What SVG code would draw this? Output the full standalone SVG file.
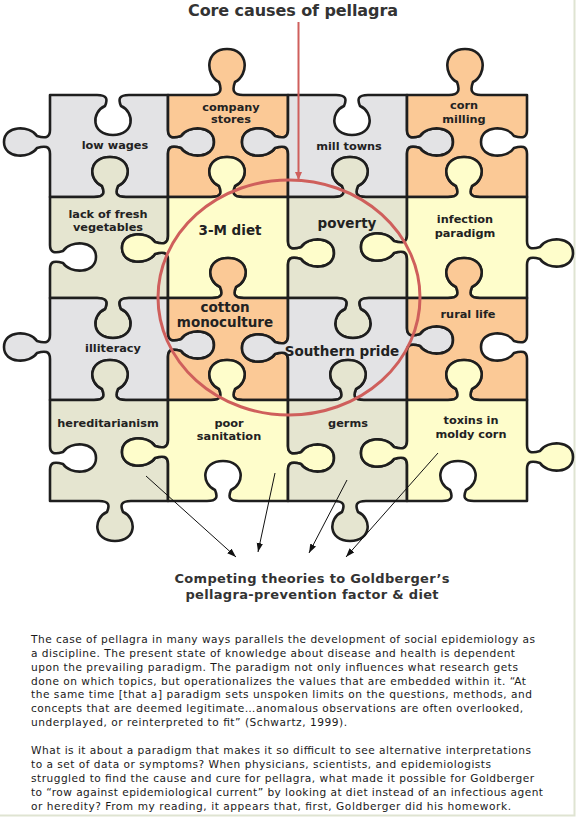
<svg xmlns="http://www.w3.org/2000/svg" width="576" height="817" viewBox="0 0 576 817">
<defs>
<style>
.pc{stroke:#1e1e1e;stroke-width:2.6;stroke-linejoin:round}
.gray{fill:#e3e3e5}
.org{fill:#fbc996}
.yel{fill:#fefdcb}
.grn{fill:#e5e5d0}
.lb{font-family:"DejaVu Sans",Verdana,sans-serif;font-weight:bold;font-size:11.3px;fill:#222;text-anchor:middle}
.big{font-size:13.5px}
.hd{font-family:"DejaVu Sans",Verdana,sans-serif;font-weight:bold;fill:#333;text-anchor:middle}
.para{font-family:"DejaVu Sans",Verdana,sans-serif;font-size:10.6px;fill:#1a1a1a}
.arr{stroke:#111;stroke-width:1;fill:none;marker-end:url(#ah)}
</style>
<marker id="ah" markerUnits="userSpaceOnUse" markerWidth="10" markerHeight="8" refX="9" refY="4" orient="auto"><path d="M0,0.8 L9,4 L0,7.2 z" fill="#111"/></marker>
<marker id="rah" markerUnits="userSpaceOnUse" markerWidth="10" markerHeight="8" refX="8" refY="4" orient="auto"><path d="M0,0.5 L8,4 L0,7.5 z" fill="#cf5f5c"/></marker>
</defs>
<rect width="576" height="817" fill="#ffffff"/>
<path d="M574.5,0 V815.5 H0" fill="none" stroke="#dfe4d2" stroke-width="2"/>

<text class="hd" x="293" y="16" font-size="16" textLength="210">Core causes of pellagra</text>

<g id="pieces">
<g id="piece-low-wages">
<path class="pc gray" d="M50,95 H97 c10,0 11,4 8,11 c-14,6 -14,29 8,29 c22,0 22,-23 8,-29 c-3,-7 -2,-11 8,-11 H168 V130 c0,8 5,8.5 13,6 c7,-11 33,-11 33,6 c0,17 -26,17 -33,6 c-8,-2.5 -13,-2 -13,6 V197 H126 c-10,0 -11,-4 -8,-11 c14,-6 14,-29 -8,-29 c-22,0 -22,23 -8,29 c3,7 2,11 -8,11 H50 V154 c0,-8 -5,-8.5 -13,-6 c-7,11 -33,11 -33,-6 c0,-17 26,-17 33,-6 c8,2.5 13,2 13,-6 Z"/>
<text class="lb" x="115" y="149">low wages</text>
</g>
<g id="piece-company-stores">
<path class="pc org" d="M168,95 H211 c10,0 11,-5 8,-13 c-14,-7 -14,-33 8,-33 c22,0 22,26 8,33 c-3,8 -2,13 8,13 H288 V130 c0,8 -5,8.5 -13,6 c-7,-11 -33,-11 -33,6 c0,17 26,17 33,6 c8,-2.5 13,-2 13,6 V197 H243 c-10,0 -11,-4 -8,-11 c14,-6 14,-29 -8,-29 c-22,0 -22,23 -8,29 c3,7 2,11 -8,11 H168 V154 c0,-8 5,-8.5 13,-6 c7,11 33,11 33,-6 c0,-17 -26,-17 -33,-6 c-8,2.5 -13,2 -13,-6 Z"/>
<text class="lb" x="231" y="111">company</text>
<text class="lb" x="231" y="123">stores</text>
</g>
<g id="piece-mill-towns">
<path class="pc gray" d="M288,95 H336 c10,0 11,4 8,11 c-14,6 -14,29 8,29 c22,0 22,-23 8,-29 c-3,-7 -2,-11 8,-11 H407 V130 c0,8 5,8.5 13,6 c7,-11 33,-11 33,6 c0,17 -26,17 -33,6 c-8,-2.5 -13,-2 -13,6 V197 H366 c-10,0 -11,-4 -8,-11 c14,-6 14,-29 -8,-29 c-22,0 -22,23 -8,29 c3,7 2,11 -8,11 H288 V154 c0,-8 -5,-8.5 -13,-6 c-7,11 -33,11 -33,-6 c0,-17 26,-17 33,-6 c8,2.5 13,2 13,-6 Z"/>
<text class="lb" x="349" y="150">mill towns</text>
</g>
<g id="piece-corn-milling">
<path class="pc org" d="M407,95 H449 c10,0 11,-5 8,-13 c-14,-7 -14,-33 8,-33 c22,0 22,26 8,33 c-3,8 -2,13 8,13 H527 V130 c0,8 -5,8.5 -13,6 c-7,-11 -33,-11 -33,6 c0,17 26,17 33,6 c8,-2.5 13,-2 13,6 V197 H480 c-10,0 -11,-4 -8,-11 c14,-6 14,-29 -8,-29 c-22,0 -22,23 -8,29 c3,7 2,11 -8,11 H407 V154 c0,-8 5,-8.5 13,-6 c7,11 33,11 33,-6 c0,-17 -26,-17 -33,-6 c-8,2.5 -13,2 -13,-6 Z"/>
<text class="lb" x="464" y="109">corn</text>
<text class="lb" x="464" y="123">milling</text>
</g>

<g id="piece-lack-of-fresh-vegetables">
<path class="pc grn" d="M50,197 H94 c10,0 11,-4 8,-11 c-14,-6 -14,-29 8,-29 c22,0 22,23 8,29 c-3,7 -2,11 8,11 H168 V236 c0,8 -5,8.5 -13,6 c-7,-11 -33,-11 -33,6 c0,17 26,17 33,6 c8,-2.5 13,-2 13,6 V298 H129 c-10,0 -11,4 -8,11 c14,6 14,29 -8,29 c-22,0 -22,-23 -8,-29 c3,-7 2,-11 -8,-11 H50 V269 c0,-8 5,-8.5 13,-6 c7,11 33,11 33,-6 c0,-17 -26,-17 -33,-6 c-8,2.5 -13,2 -13,-6 Z"/>
<text class="lb" x="108" y="218">lack of fresh</text>
<text class="lb" x="108" y="231">vegetables</text>
</g>
<g id="piece-3m-diet">
<path class="pc yel" d="M168,197 H211 c10,0 11,-4 8,-11 c-14,-6 -14,-29 8,-29 c22,0 22,23 8,29 c-3,7 -2,11 8,11 H288 V241 c0,8 5,8.5 13,6 c7,-11 33,-11 33,6 c0,17 -26,17 -33,6 c-8,-2.5 -13,-2 -13,6 V298 H244 c-10,0 -11,-4 -8,-11 c14,-6 14,-29 -8,-29 c-22,0 -22,23 -8,29 c3,7 2,11 -8,11 H168 V260 c0,-8 -5,-8.5 -13,-6 c-7,11 -33,11 -33,-6 c0,-17 26,-17 33,-6 c8,2.5 13,2 13,-6 Z"/>
<text class="lb big" x="230" y="235">3-M diet</text>
</g>
<g id="piece-poverty">
<path class="pc grn" d="M288,197 H334 c10,0 11,-4 8,-11 c-14,-6 -14,-29 8,-29 c22,0 22,23 8,29 c-3,7 -2,11 8,11 H407 V235 c0,8 -5,8.5 -13,6 c-7,-11 -33,-11 -33,6 c0,17 26,17 33,6 c8,-2.5 13,-2 13,6 V298 H369 c-10,0 -11,4 -8,11 c14,6 14,29 -8,29 c-22,0 -22,-23 -8,-29 c3,-7 2,-11 -8,-11 H288 V265 c0,-8 5,-8.5 13,-6 c7,11 33,11 33,-6 c0,-17 -26,-17 -33,-6 c-8,2.5 -13,2 -13,-6 Z"/>
<text class="lb big" x="347" y="228">poverty</text>
</g>
<g id="piece-infection-paradigm">
<path class="pc yel" d="M407,197 H448 c10,0 11,-4 8,-11 c-14,-6 -14,-29 8,-29 c22,0 22,23 8,29 c-3,7 -2,11 8,11 H527 V241 c0,8 5,8.5 13,6 c7,-11 33,-11 33,6 c0,17 -26,17 -33,6 c-8,-2.5 -13,-2 -13,6 V298 H480 c-10,0 -11,-4 -8,-11 c14,-6 14,-29 -8,-29 c-22,0 -22,23 -8,29 c3,7 2,11 -8,11 H407 V259 c0,-8 -5,-8.5 -13,-6 c-7,11 -33,11 -33,-6 c0,-17 26,-17 33,-6 c8,2.5 13,2 13,-6 Z"/>
<text class="lb" x="465" y="223">infection</text>
<text class="lb" x="465" y="237">paradigm</text>
</g>

<g id="piece-illiteracy">
<path class="pc gray" d="M50,298 H97 c10,0 11,4 8,11 c-14,6 -14,29 8,29 c22,0 22,-23 8,-29 c-3,-7 -2,-11 8,-11 H168 V333 c0,8 5,8.5 13,6 c7,-11 33,-11 33,6 c0,17 -26,17 -33,6 c-8,-2.5 -13,-2 -13,6 V400 H126 c-10,0 -11,-4 -8,-11 c14,-6 14,-29 -8,-29 c-22,0 -22,23 -8,29 c3,7 2,11 -8,11 H50 V359 c0,-8 -5,-8.5 -13,-6 c-7,11 -33,11 -33,-6 c0,-17 26,-17 33,-6 c8,2.5 13,2 13,-6 Z"/>
<text class="lb" x="113" y="352">illiteracy</text>
</g>
<g id="piece-cotton-monoculture">
<path class="pc org" d="M168,298 H212 c10,0 11,-4 8,-11 c-14,-6 -14,-29 8,-29 c22,0 22,23 8,29 c-3,7 -2,11 8,11 H288 V336 c0,8 -5,8.5 -13,6 c-7,-11 -33,-11 -33,6 c0,17 26,17 33,6 c8,-2.5 13,-2 13,6 V400 H243 c-10,0 -11,-4 -8,-11 c14,-6 14,-29 -8,-29 c-22,0 -22,23 -8,29 c3,7 2,11 -8,11 H168 V357 c0,-8 5,-8.5 13,-6 c7,11 33,11 33,-6 c0,-17 -26,-17 -33,-6 c-8,2.5 -13,2 -13,-6 Z"/>
<text class="lb big" x="225" y="312">cotton</text>
<text class="lb big" x="225" y="327">monoculture</text>
</g>
<g id="piece-southern-pride">
<path class="pc gray" d="M288,298 H337 c10,0 11,4 8,11 c-14,6 -14,29 8,29 c22,0 22,-23 8,-29 c-3,-7 -2,-11 8,-11 H407 V328 c0,8 5,8.5 13,6 c7,-11 33,-11 33,6 c0,17 -26,17 -33,6 c-8,-2.5 -13,-2 -13,6 V400 H364 c-10,0 -11,-4 -8,-11 c14,-6 14,-29 -8,-29 c-22,0 -22,23 -8,29 c3,7 2,11 -8,11 H288 V360 c0,-8 -5,-8.5 -13,-6 c-7,11 -33,11 -33,-6 c0,-17 26,-17 33,-6 c8,2.5 13,2 13,-6 Z"/>
<text class="lb big" x="342" y="356">Southern pride</text>
</g>
<g id="piece-rural-life">
<path class="pc org" d="M407,298 H448 c10,0 11,-4 8,-11 c-14,-6 -14,-29 8,-29 c22,0 22,23 8,29 c-3,7 -2,11 8,11 H527 V335 c0,8 -5,8.5 -13,6 c-7,-11 -33,-11 -33,6 c0,17 26,17 33,6 c8,-2.5 13,-2 13,6 V400 H480 c-10,0 -11,-4 -8,-11 c14,-6 14,-29 -8,-29 c-22,0 -22,23 -8,29 c3,7 2,11 -8,11 H407 V352 c0,-8 5,-8.5 13,-6 c7,11 33,11 33,-6 c0,-17 -26,-17 -33,-6 c-8,2.5 -13,2 -13,-6 Z"/>
<text class="lb" x="468" y="318">rural life</text>
</g>

<g id="piece-hereditarianism">
<path class="pc grn" d="M50,400 H94 c10,0 11,-4 8,-11 c-14,-6 -14,-29 8,-29 c22,0 22,23 8,29 c-3,7 -2,11 8,11 H168 V440 c0,8 -5,8.5 -13,6 c-7,-11 -33,-11 -33,6 c0,17 26,17 33,6 c8,-2.5 13,-2 13,6 V501 H131 c-10,0 -11,4 -8,11 c14,6 14,29 -8,29 c-22,0 -22,-23 -8,-29 c3,-7 2,-11 -8,-11 H50 V470 c0,-8 5,-8.5 13,-6 c7,11 33,11 33,-6 c0,-17 -26,-17 -33,-6 c-8,2.5 -13,2 -13,-6 Z"/>
<text class="lb" x="108" y="427">hereditarianism</text>
</g>
<g id="piece-poor-sanitation">
<path class="pc yel" d="M168,400 H211 c10,0 11,-4 8,-11 c-14,-6 -14,-29 8,-29 c22,0 22,23 8,29 c-3,7 -2,11 8,11 H288 V446 c0,8 5,8.5 13,6 c7,-11 33,-11 33,6 c0,17 -26,17 -33,6 c-8,-2.5 -13,-2 -13,6 V501 H239 c-10,0 -11,-4 -8,-11 c14,-6 14,-29 -8,-29 c-22,0 -22,23 -8,29 c3,7 2,11 -8,11 H168 V464 c0,-8 -5,-8.5 -13,-6 c-7,11 -33,11 -33,-6 c0,-17 26,-17 33,-6 c8,2.5 13,2 13,-6 Z"/>
<text class="lb" x="229" y="427">poor</text>
<text class="lb" x="229" y="440">sanitation</text>
</g>
<g id="piece-germs">
<path class="pc grn" d="M288,400 H332 c10,0 11,-4 8,-11 c-14,-6 -14,-29 8,-29 c22,0 22,23 8,29 c-3,7 -2,11 8,11 H407 V441 c0,8 -5,8.5 -13,6 c-7,-11 -33,-11 -33,6 c0,17 26,17 33,6 c8,-2.5 13,-2 13,6 V501 H366 c-10,0 -11,4 -8,11 c14,6 14,29 -8,29 c-22,0 -22,-23 -8,-29 c3,-7 2,-11 -8,-11 H288 V470 c0,-8 5,-8.5 13,-6 c7,11 33,11 33,-6 c0,-17 -26,-17 -33,-6 c-8,2.5 -13,2 -13,-6 Z"/>
<text class="lb" x="348" y="427">germs</text>
</g>
<g id="piece-toxins-in-moldy-corn">
<path class="pc yel" d="M407,400 H448 c10,0 11,-4 8,-11 c-14,-6 -14,-29 8,-29 c22,0 22,23 8,29 c-3,7 -2,11 8,11 H527 V445 c0,8 5,8.5 13,6 c7,-11 33,-11 33,6 c0,17 -26,17 -33,6 c-8,-2.5 -13,-2 -13,6 V501 H474 c-10,0 -11,-4 -8,-11 c14,-6 14,-29 -8,-29 c-22,0 -22,23 -8,29 c3,7 2,11 -8,11 H407 V465 c0,-8 -5,-8.5 -13,-6 c-7,11 -33,11 -33,-6 c0,-17 26,-17 33,-6 c8,2.5 13,2 13,-6 Z"/>
<text class="lb" x="471" y="424">toxins in</text>
<text class="lb" x="471" y="438">moldy corn</text>
</g>
</g>

<g id="core-highlight">
<ellipse cx="289" cy="297.5" rx="131" ry="117.5" fill="none" stroke="#cf5f5c" stroke-width="3"/>
</g>

<g id="connectors">
<line x1="298.5" y1="22" x2="298.5" y2="180" stroke="#cf5f5c" stroke-width="2" marker-end="url(#rah)"/>
<line class="arr" x1="146" y1="476" x2="236" y2="557"/>
<line class="arr" x1="275" y1="473" x2="258" y2="552"/>
<line class="arr" x1="347" y1="480" x2="309" y2="553"/>
<line class="arr" x1="438" y1="453" x2="346" y2="557"/>
</g>

<text class="hd" x="312" y="583" font-size="13" textLength="275">Competing theories to Goldberger’s</text>
<text class="hd" x="312" y="599" font-size="13" textLength="253">pellagra-prevention factor &amp; diet</text>

<g id="text-body">
<text class="para" x="31" y="643.3" textLength="504">The case of pellagra in many ways parallels the development of social epidemiology as</text>
<text class="para" x="31" y="657" textLength="484">a discipline. The present state of knowledge about disease and health is dependent</text>
<text class="para" x="31" y="670.8" textLength="487">upon the prevailing paradigm. The paradigm not only influences what research gets</text>
<text class="para" x="31" y="684.5" textLength="495">done on which topics, but operationalizes the values that are embedded within it. “At</text>
<text class="para" x="31" y="698.2" textLength="501">the same time [that a] paradigm sets unspoken limits on the questions, methods, and</text>
<text class="para" x="31" y="712" textLength="492">concepts that are deemed legitimate…anomalous observations are often overlooked,</text>
<text class="para" x="31" y="725.7" textLength="316">underplayed, or reinterpreted to fit” (Schwartz, 1999).</text>
<text class="para" x="31" y="754" textLength="500">What is it about a paradigm that makes it so difficult to see alternative interpretations</text>
<text class="para" x="31" y="768" textLength="460">to a set of data or symptoms? When physicians, scientists, and epidemiologists</text>
<text class="para" x="31" y="782" textLength="503">struggled to find the cause and cure for pellagra, what made it possible for Goldberger</text>
<text class="para" x="31" y="796" textLength="512">to “row against epidemiological current” by looking at diet instead of an infectious agent</text>
<text class="para" x="31" y="810" textLength="480">or heredity? From my reading, it appears that, first, Goldberger did his homework.</text>
</g>
</svg>
